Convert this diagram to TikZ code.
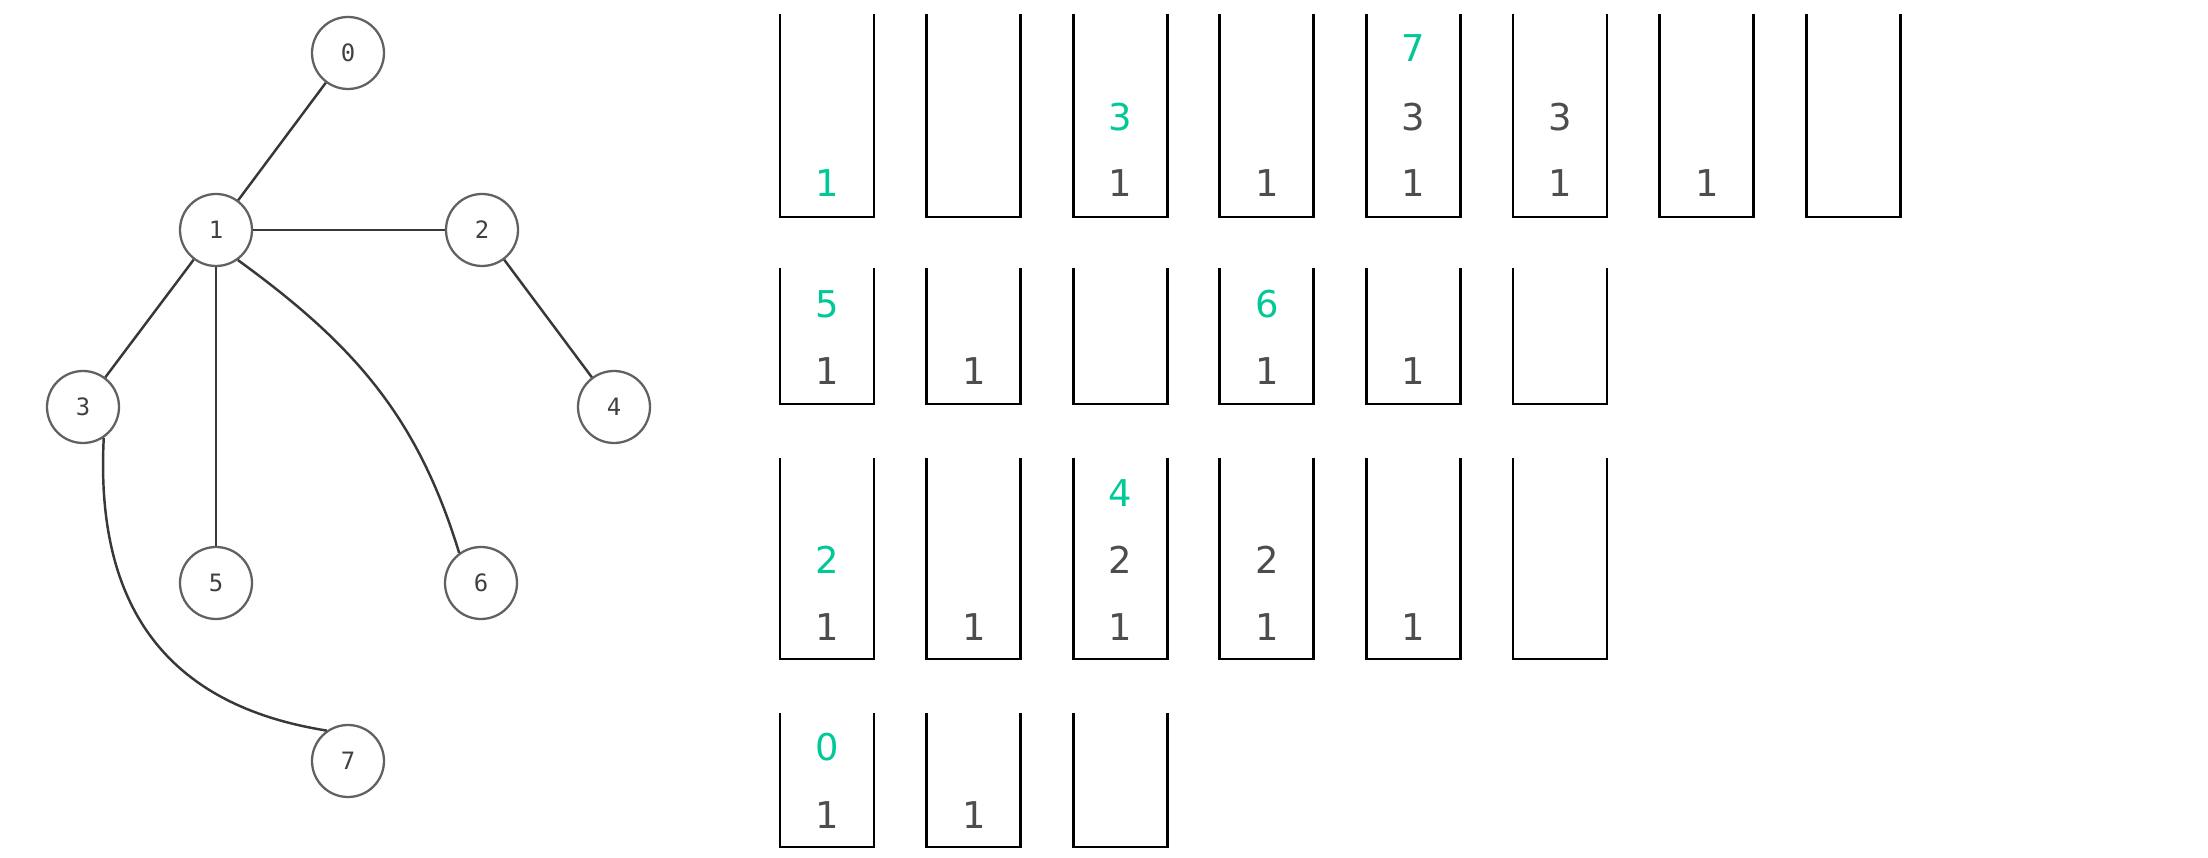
\documentclass[tikz,border=0pt]{standalone}
\usepackage{fontspec}
\newfontfamily\stackfont{DejaVu Sans}
\newfontfamily\vertexfont{DejaVu Sans Mono}
\usetikzlibrary{positioning}
\definecolor{pushed}{HTML}{00C896}
\definecolor{stacked}{HTML}{4D4D4D}
\definecolor{edgegray}{HTML}{383838}

\tikzset{
	vertex/.style={circle, draw=black!62, line width=0.65pt, minimum size=0.72cm, inner sep=0pt,
		font=\vertexfont\fontsize{6.8}{7}\selectfont, text=black!75},
	edge/.style={draw=edgegray, line width=0.7pt},
	stackbox/.style={draw=black, line width=0.8pt},
	val/.style={inner sep=0pt, text=stacked, font=\stackfont\fontsize{10.5}{12}\selectfont},
	newval/.style={val, text=pushed}
}

\begin{document}
\begin{tikzpicture}
	\useasboundingbox (0,0) rectangle (22.08,-8.58);
	
	% the graph
	\node[vertex] (v0) at (3.48,-0.53) {0};
	\node[vertex] (v1) at (2.16,-2.30) {1};
	\node[vertex] (v2) at (4.82,-2.30) {2};
	\node[vertex] (v3) at (0.83,-4.07) {3};
	\node[vertex] (v4) at (6.14,-4.07) {4};
	\node[vertex] (v5) at (2.16,-5.83) {5};
	\node[vertex] (v6) at (4.81,-5.83) {6};
	\node[vertex] (v7) at (3.48,-7.61) {7};
	
	\draw[edge] (v0) -- (v1);
	\draw[edge] (v1) -- (v2);
	\draw[edge] (v2) -- (v4);
	\draw[edge] (v1) -- (v3);
	\draw[edge] (v1) -- (v5);
	\draw[edge] (v1.-54) to[out=-36, in=107] (v6.126);
	\draw[edge] (v3.-56) to[out=-93, in=171, looseness=1.15] (v7.125);
	
	% the stacks, row by row
	\foreach \c in {0,...,7}
		\draw[stackbox] ({7.80+1.466*\c},-0.14) |- ({8.74+1.466*\c},-2.17) -- ({8.74+1.466*\c},-0.14);
	\foreach \c in {0,...,5}
		\draw[stackbox] ({7.80+1.466*\c},-2.68) |- ({8.74+1.466*\c},-4.04) -- ({8.74+1.466*\c},-2.68);
	\foreach \c in {0,...,5}
		\draw[stackbox] ({7.80+1.466*\c},-4.58) |- ({8.74+1.466*\c},-6.59) -- ({8.74+1.466*\c},-4.58);
	\foreach \c in {0,...,2}
		\draw[stackbox] ({7.80+1.466*\c},-7.13) |- ({8.74+1.466*\c},-8.47) -- ({8.74+1.466*\c},-7.13);
	
	% row 1
	\node[newval] (s1a) at (8.27,-1.83) {1};
	\node[val] (s3a) at (11.20,-1.83) {1};
	\node[newval] (s3b) at (11.20,-1.17) {3};
	\node[val] (s4a) at (12.67,-1.83) {1};
	\node[val] (s5a) at (14.13,-1.83) {1};
	\node[val] (s5b) at (14.13,-1.17) {3};
	\node[newval] (s5c) at (14.13,-0.48) {7};
	\node[val] (s6a) at (15.60,-1.83) {1};
	\node[val] (s6b) at (15.60,-1.17) {3};
	\node[val] (s7a) at (17.07,-1.83) {1};
	
	% row 2
	\node[val] (s9a) at (8.27,-3.71) {1};
	\node[newval] (s9b) at (8.27,-3.04) {5};
	\node[val] (s10a) at (9.74,-3.71) {1};
	\node[val] (s12a) at (12.67,-3.71) {1};
	\node[newval] (s12b) at (12.67,-3.04) {6};
	\node[val] (s13a) at (14.13,-3.71) {1};
	
	% row 3
	\node[val] (s15a) at (8.27,-6.27) {1};
	\node[newval] (s15b) at (8.27,-5.60) {2};
	\node[val] (s16a) at (9.74,-6.27) {1};
	\node[val] (s17a) at (11.20,-6.27) {1};
	\node[val] (s17b) at (11.20,-5.60) {2};
	\node[newval] (s17c) at (11.20,-4.93) {4};
	\node[val] (s18a) at (12.67,-6.27) {1};
	\node[val] (s18b) at (12.67,-5.60) {2};
	\node[val] (s19a) at (14.13,-6.27) {1};
	
	% row 4
	\node[val] (s21a) at (8.27,-8.15) {1};
	\node[newval] (s21b) at (8.27,-7.47) {0};
	\node[val] (s22a) at (9.74,-8.15) {1};
	
\end{tikzpicture}
\end{document}
